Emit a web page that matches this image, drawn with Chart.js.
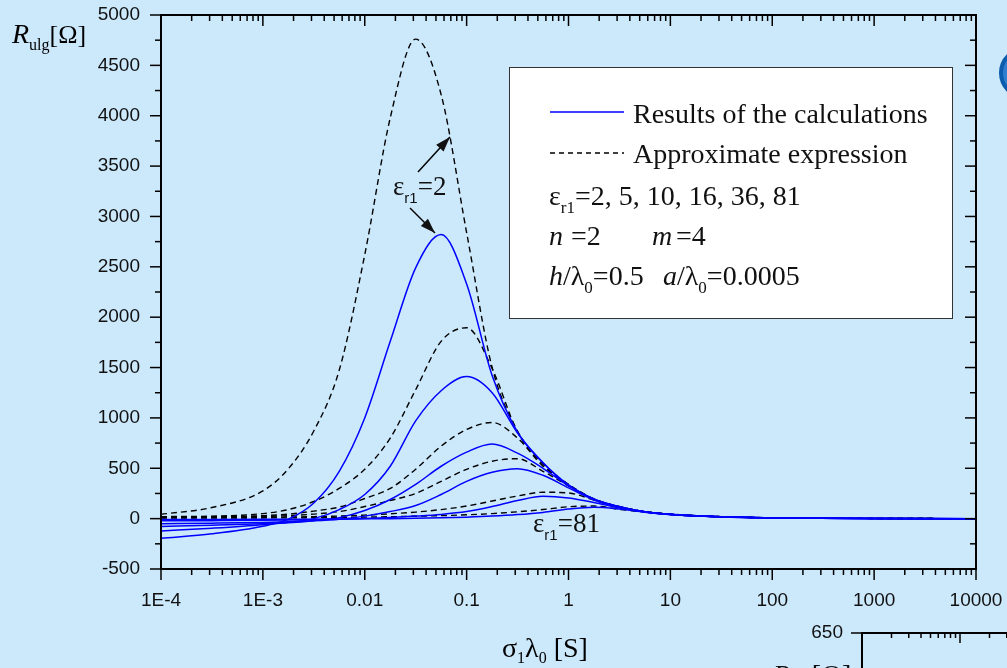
<!DOCTYPE html>
<html>
<head>
<meta charset="utf-8">
<script src="https://cdn.jsdelivr.net/npm/chart.js@4.4.1/dist/chart.umd.min.js"></script>
<style>
  html, body { margin: 0; padding: 0; background: #cce9fc; }
  #wrap { position: relative; width: 1007px; height: 668px; overflow: hidden; }
</style>
</head>
<body>
<div id="wrap"><canvas id="rChart" width="1007" height="668"></canvas></div>
<script>
// sigma1*lambda0 [S], quarter-decade grid in the active part
const sigma = [1e-4, 3.16e-4, 1e-3, 1.78e-3, 3.16e-3, 5.62e-3, 0.01, 0.0178, 0.0316, 0.0562, 0.1, 0.178,
  0.316, 0.562, 1, 1.78, 3.16, 5.62, 10, 31.6, 100, 1000, 10000];

// results of the calculations (solid blue), eps_r1 = 2, 5, 10, 16, 36, 81
const calc2  = [-195, -150, -75, -5, 155, 470, 1000, 1760, 2490, 2820, 2330, 1420, 860, 555, 335, 195, 118, 68, 43, 18, 7, 1, 0];
const calc5  = [-123, -95, -60, -35, 0, 90, 240, 520, 970, 1270, 1410, 1250, 850, 555, 333, 193, 117, 68, 43, 18, 7, 1, 0];
const calc10 = [-78, -65, -50, -40, -20, 10, 80, 190, 340, 520, 660, 740, 650, 500, 325, 190, 115, 68, 42, 18, 7, 1, 0];
const calc16 = [-50, -45, -38, -32, -22, -5, 25, 70, 130, 240, 370, 460, 495, 430, 305, 185, 113, 67, 42, 18, 7, 1, 0];
const calc36 = [-22, -20, -17, -14, -10, -5, 2, 12, 25, 42, 70, 120, 180, 222, 205, 160, 105, 65, 40, 17, 7, 1, 0];
const calc81 = [-8, -8, -7, -6, -5, -4, -2, 0, 3, 8, 15, 25, 40, 62, 95, 112, 95, 64, 40, 17, 7, 1, 0];

// approximate expression (dashed black)
const appr2  = [43, 110, 275, 495, 870, 1475, 2620, 3980, 4760, 4210, 2840, 1500, 870, 545, 340, 195, 120, 70, 45, 20, 8, 2, 0];
const appr5  = [20, 25, 50, 90, 170, 300, 490, 800, 1280, 1760, 1895, 1490, 860, 540, 338, 195, 118, 70, 44, 19, 8, 2, 0];
const appr10 = [15, 18, 30, 45, 75, 115, 200, 300, 490, 720, 885, 955, 800, 520, 335, 193, 117, 69, 43, 19, 8, 2, 0];
const appr16 = [12, 14, 22, 30, 45, 70, 120, 180, 250, 370, 490, 570, 595, 470, 325, 190, 115, 68, 43, 19, 8, 2, 0];
const appr36 = [10, 10, 13, 16, 20, 26, 35, 48, 65, 90, 125, 175, 225, 262, 255, 185, 115, 70, 42, 18, 8, 2, 0];
const appr81 = [7, 6, 7, 8, 10, 12, 15, 19, 24, 30, 38, 50, 68, 90, 118, 125, 92, 65, 40, 17, 8, 2, 0];

const xTicks = [1e-4, 1e-3, 0.01, 0.1, 1, 10, 100, 1000, 10000];
const xTickLabels = ["1E-4", "1E-3", "0.01", "0.1", "1", "10", "100", "1000", "10000"];
const yTicks = [-500, 0, 500, 1000, 1500, 2000, 2500, 3000, 3500, 4000, 4500, 5000];

const serif = '"Liberation Serif", "Times New Roman", serif';
const sans = '"Liberation Sans", Arial, sans-serif';

const toPts = (arr) => sigma.map((s, i) => ({ x: s, y: arr[i] }));
const solid = (arr) => ({ data: toPts(arr), borderColor: "#0000ff", borderWidth: 1.5 });
const dashed = (arr) => ({ data: toPts(arr), borderColor: "#000000", borderWidth: 1.4, borderDash: [6, 4] });

const datasets = [
  solid(calc2), solid(calc5), solid(calc10), solid(calc16), solid(calc36), solid(calc81),
  dashed(appr2), dashed(appr5), dashed(appr10), dashed(appr16), dashed(appr36), dashed(appr81),
];

function line(ctx, x1, y1, x2, y2) {
  ctx.beginPath();
  ctx.moveTo(x1, y1);
  ctx.lineTo(x2, y2);
  ctx.stroke();
}

// draw a sequence of text pieces; dy shifts subscripts down
function runs(ctx, x, y, parts) {
  for (const p of parts) {
    ctx.font = p.f;
    if (p.x !== undefined) x = p.x;
    ctx.fillText(p.t, x, y + (p.dy || 0));
    x += ctx.measureText(p.t).width;
  }
}

function arrow(ctx, x1, y1, x2, y2) {
  line(ctx, x1, y1, x2, y2);
  const ang = Math.atan2(y2 - y1, x2 - x1);
  const len = 15, w = 5;
  ctx.beginPath();
  ctx.moveTo(x2, y2);
  ctx.lineTo(x2 - len * Math.cos(ang) + w * Math.sin(ang), y2 - len * Math.sin(ang) - w * Math.cos(ang));
  ctx.lineTo(x2 - len * Math.cos(ang) - w * Math.sin(ang), y2 - len * Math.sin(ang) + w * Math.cos(ang));
  ctx.closePath();
  ctx.fill();
}

const decor = {
  id: "decor",
  afterDraw(chart) {
    const ctx = chart.ctx;
    const xs = chart.scales.x, ys = chart.scales.y;
    const a = chart.chartArea;
    ctx.save();
    ctx.strokeStyle = "#000";
    ctx.fillStyle = "#000";

    // frame
    ctx.lineWidth = 2;
    ctx.strokeRect(a.left, a.top, a.right - a.left, a.bottom - a.top);

    // x ticks: bottom outward, top inward
    ctx.lineWidth = 1.5;
    for (let e = -4; e <= 4; e++) {
      for (let m = 1; m <= 9; m++) {
        const v = m * Math.pow(10, e);
        if (v > 10000.5) break;
        const px = xs.getPixelForValue(v);
        const len = m === 1 ? 11 : 6;
        line(ctx, px, a.bottom, px, a.bottom + len);
        line(ctx, px, a.top, px, a.top + len);
      }
    }
    // y ticks: left outward, right inward
    for (let v = -500; v <= 5000; v += 250) {
      const py = ys.getPixelForValue(v);
      const len = v % 500 === 0 ? 11 : 6;
      line(ctx, a.left - len, py, a.left, py);
      line(ctx, a.right - len, py, a.right, py);
    }

    // axis titles
    ctx.textAlign = "left";
    ctx.textBaseline = "alphabetic";
    runs(ctx, 12, 43, [
      { t: "R", f: "italic 28px " + serif },
      { t: "ulg", f: "16px " + serif, dy: 7 },
      { t: "[Ω]", f: "26px " + serif },
    ]);
    runs(ctx, 502, 657, [
      { t: "σ", f: "28px " + serif },
      { t: "1", f: "16px " + serif, dy: 6 },
      { t: "λ", f: "28px " + serif },
      { t: "0", f: "16px " + serif, dy: 6 },
      { t: " [S]", f: "28px " + serif },
    ]);

    // legend box
    ctx.fillStyle = "#fff";
    ctx.fillRect(509.5, 67.5, 443, 251);
    ctx.strokeStyle = "#333";
    ctx.lineWidth = 1;
    ctx.strokeRect(509.5, 67.5, 443, 251);
    ctx.strokeStyle = "#0000ff";
    ctx.lineWidth = 1.5;
    line(ctx, 550, 112, 624, 112);
    ctx.strokeStyle = "#000";
    ctx.setLineDash([5, 4]);
    line(ctx, 550, 153, 624, 153);
    ctx.setLineDash([]);
    ctx.fillStyle = "#111";
    const big = "28px " + serif, it = "italic 28px " + serif, sub = "17px " + serif;
    runs(ctx, 633, 123, [{ t: "Results of the calculations", f: big }]);
    runs(ctx, 633, 163, [{ t: "Approximate expression", f: big }]);
    runs(ctx, 549, 205, [
      { t: "ε", f: big }, { t: "r1", f: sub, dy: 8 }, { t: "=2, 5, 10, 16, 36, 81", f: big },
    ]);
    runs(ctx, 549, 245, [
      { t: "n", f: it }, { t: "=2", f: big, x: 571 },
      { t: "m", f: it, x: 652 }, { t: "=4", f: big, x: 676 },
    ]);
    runs(ctx, 549, 285, [
      { t: "h", f: it }, { t: "/λ", f: big }, { t: "0", f: sub, dy: 8 }, { t: "=0.5", f: big },
      { t: "a", f: it, x: 663 }, { t: "/λ", f: big }, { t: "0", f: sub, dy: 8 }, { t: "=0.0005", f: big },
    ]);

    // curve annotations
    ctx.fillStyle = "#111";
    ctx.strokeStyle = "#000";
    ctx.lineWidth = 1.5;
    runs(ctx, 393, 195, [
      { t: "ε", f: "27px " + serif }, { t: "r1", f: "15px " + sans, dy: 8 }, { t: "=2", f: "27px " + serif },
    ]);
    arrow(ctx, 418, 172, 450, 137);
    arrow(ctx, 410, 208, 435, 233);
    runs(ctx, 533, 532, [
      { t: "ε", f: "27px " + serif }, { t: "r1", f: "15px " + sans, dy: 8 }, { t: "=81", f: "27px " + serif },
    ]);

    // neighbouring panel, cut by the page edge
    ctx.fillStyle = "#111";
    ctx.font = "19px " + sans;
    ctx.textAlign = "right";
    ctx.textBaseline = "middle";
    ctx.fillText("650", 843, 633);
    ctx.textAlign = "left";
    ctx.textBaseline = "alphabetic";
    ctx.lineWidth = 2;
    line(ctx, 862, 633, 1010, 633);
    line(ctx, 862, 632, 862, 670);
    ctx.lineWidth = 1.5;
    line(ctx, 851, 633, 862, 633);
    for (let d = 0; d < 2; d++) {
      for (let m = 2; m <= 10; m++) {
        const px = 862 + 98 * d + 98 * Math.log10(m);
        line(ctx, px, 633, px, 633 + (m === 10 ? 10 : 5));
      }
    }
    runs(ctx, 773, 684, [
      { t: "R", f: "italic 28px " + serif }, { t: "ulg", f: "17px " + serif, dy: 7 }, { t: "[Ω]", f: "28px " + serif },
    ]);

    // panel badge at the right edge
    ctx.fillStyle = "#2f7fd0";
    ctx.strokeStyle = "#0b5cad";
    ctx.lineWidth = 4;
    ctx.beginPath();
    ctx.arc(1025, 73, 24, 0, Math.PI * 2);
    ctx.fill();
    ctx.stroke();
    ctx.restore();
  },
};

const ctx = document.getElementById("rChart").getContext("2d");
const rChart = new Chart(ctx, {
  type: "line",
  data: { datasets },
  options: {
    responsive: false,
    animation: false,
    devicePixelRatio: 1,
    layout: { padding: { left: 0, right: 31, top: 15, bottom: 0 } },
    plugins: {
      legend: { display: false },
      tooltip: { enabled: false },
    },
    elements: {
      point: { radius: 0 },
      line: { cubicInterpolationMode: "monotone" },
    },
    scales: {
      x: {
        type: "logarithmic",
        min: 1e-4,
        max: 1e4,
        afterBuildTicks: (s) => { s.ticks = xTicks.map((v) => ({ value: v })); },
        afterFit: (s) => { s.height = 99; s.paddingLeft = 0; s.paddingRight = 0; },
        grid: { display: false, drawTicks: false },
        border: { display: false },
        ticks: {
          autoSkip: false,
          maxRotation: 0,
          padding: 20,
          color: "#111",
          font: { family: sans, size: 19 },
          callback: (v, i) => xTickLabels[i],
        },
      },
      y: {
        min: -500,
        max: 5000,
        afterBuildTicks: (s) => { s.ticks = yTicks.map((v) => ({ value: v })); },
        afterFit: (s) => { s.width = 161; s.paddingTop = 0; s.paddingBottom = 0; },
        grid: { display: false, drawTicks: false },
        border: { display: false },
        ticks: {
          padding: 21,
          color: "#111",
          font: { family: sans, size: 19 },
          callback: (v) => String(v),
        },
      },
    },
  },
  plugins: [decor],
});
</script>
</body>
</html>
